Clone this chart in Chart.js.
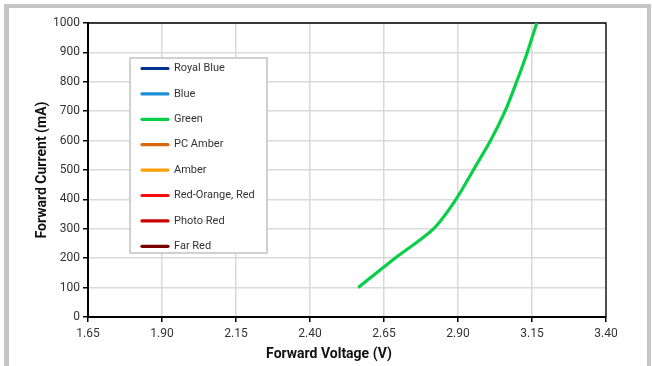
<!DOCTYPE html>
<html>
<head>
<meta charset="utf-8">
<script src="https://cdn.jsdelivr.net/npm/chart.js@4/dist/chart.umd.min.js"></script>
<style>
  html, body { margin: 0; padding: 0; background: #fff; }
  #wrap { position: relative; width: 652px; height: 366px; overflow: hidden; }
  #frame {
    position: absolute; left: 4px; top: 4px; width: 638px; height: 380px;
    border-left: 5px solid #c6c6c6; border-top: 4px solid #c6c6c6; border-right: 4px solid #c6c6c6;
    box-sizing: content-box;
  }
  canvas { position: absolute; left: 0; top: 0; }
</style>
</head>
<body>
<div id="wrap">
  <div id="frame"></div>
  <canvas id="chart" width="652" height="366"></canvas>
</div>
<script>
// LED series shown in the legend
const seriesNames = ['Royal Blue', 'Blue', 'Green', 'PC Amber', 'Amber', 'Red-Orange, Red', 'Photo Red', 'Far Red'];
const seriesColors = ['#00338d', '#1b8fd8', '#08cf48', '#d9680a', '#ffa000', '#ff0a0a', '#cc0000', '#7a0000'];

// Green forward voltage (V) vs forward current (mA)
const greenVoltage = [2.563, 2.687, 2.817, 2.893, 2.952, 3.010, 3.059, 3.098, 3.134, 3.166];
const greenCurrent = [100, 200, 300, 400, 500, 600, 700, 800, 900, 1000];

// Axis ticks
const xTicks = [1.65, 1.90, 2.15, 2.40, 2.65, 2.90, 3.15, 3.40];
const yTicks = [0, 100, 200, 300, 400, 500, 600, 700, 800, 900, 1000];

const xTitle = 'Forward Voltage (V)';
const yTitle = 'Forward Current (mA)';

const seriesData = {
  'Green': greenVoltage.map((v, i) => ({ x: v, y: greenCurrent[i] }))
};

const datasets = seriesNames.map((name, i) => ({
  label: name,
  data: seriesData[name] || [],
  borderColor: seriesColors[i],
  backgroundColor: seriesColors[i],
  borderWidth: 3.2,
  pointRadius: 0,
  tension: 0.3,
  fill: false
}));

const FONT = 'Roboto, "Liberation Sans", Arial, sans-serif';

// Boxed legend drawn inside the plot area
const insideLegend = {
  id: 'insideLegend',
  afterDraw(chart) {
    const { ctx, chartArea } = chart;
    const left = chartArea.left + 42, top = chartArea.top + 35;
    const w = 137, h = 195;
    ctx.save();
    ctx.fillStyle = '#fff';
    ctx.fillRect(left, top, w, h);
    ctx.strokeStyle = '#d0d0d0';
    ctx.lineWidth = 2;
    ctx.strokeRect(left, top, w, h);
    ctx.font = '11px ' + FONT;
    ctx.textBaseline = 'middle';
    ctx.fillStyle = '#333';
    chart.data.datasets.forEach((ds, i) => {
      const y = top + 10.5 + i * 25.4;
      ctx.strokeStyle = ds.borderColor;
      ctx.lineWidth = 3.2;
      ctx.lineCap = 'round';
      ctx.beginPath();
      ctx.moveTo(left + 12, y);
      ctx.lineTo(left + 38, y);
      ctx.stroke();
      ctx.fillText(ds.label, left + 44, y);
    });
    ctx.restore();
  }
};

// Thin frame along the top and right of the plot area, and the x-axis title
const plotFrame = {
  id: 'plotFrame',
  beforeDatasetsDraw(chart) {
    const { ctx, chartArea: a } = chart;
    ctx.save();
    ctx.strokeStyle = '#000';
    ctx.lineWidth = 1.3;
    ctx.beginPath();
    ctx.moveTo(a.left, a.top);
    ctx.lineTo(a.right, a.top);
    ctx.lineTo(a.right, a.bottom);
    ctx.stroke();

    ctx.font = 'bold 14px ' + FONT;
    ctx.fillStyle = '#111';
    ctx.textAlign = 'center';
    ctx.textBaseline = 'middle';
    ctx.fillText(xTitle, (a.left + a.right) / 2 - 18, a.bottom + 37);
    ctx.restore();
  }
};

new Chart(document.getElementById('chart'), {
  type: 'line',
  data: { datasets },
  options: {
    responsive: false,
    animation: false,
    layout: { padding: { left: 34, right: 46, top: 23, bottom: 5 } },
    plugins: {
      legend: { display: false },
      tooltip: { enabled: false }
    },
    scales: {
      x: {
        type: 'linear',
        min: 1.65,
        max: 3.40,
        afterBuildTicks: s => { s.ticks = xTicks.map(v => ({ value: v })); },
        afterFit: s => { s.height = 44; },
        ticks: {
          callback: v => v.toFixed(2),
          color: '#333',
          font: { family: FONT, size: 12 },
          padding: 5,
          maxRotation: 0,
          autoSkip: false
        },
        grid: { color: '#d9d9d9', lineWidth: 1.5, tickLength: 5, tickColor: '#000', tickWidth: 1.5 },
        border: { color: '#000', width: 2 }
      },
      y: {
        type: 'linear',
        min: 0,
        max: 1000,
        afterBuildTicks: s => { s.ticks = yTicks.map(v => ({ value: v })); },
        afterFit: s => { s.width = 54; },
        ticks: {
          callback: v => String(v),
          color: '#333',
          font: { family: FONT, size: 12 },
          padding: 3
        },
        grid: { color: '#d9d9d9', lineWidth: 1.5, tickLength: 5, tickColor: '#000', tickWidth: 1.5 },
        border: { color: '#000', width: 2 },
        title: {
          display: true,
          text: yTitle,
          color: '#111',
          font: { family: FONT, size: 14, weight: 'bold' },
          padding: { top: 0, bottom: 10 }
        }
      }
    }
  },
  plugins: [plotFrame, insideLegend]
});
</script>
</body>
</html>
